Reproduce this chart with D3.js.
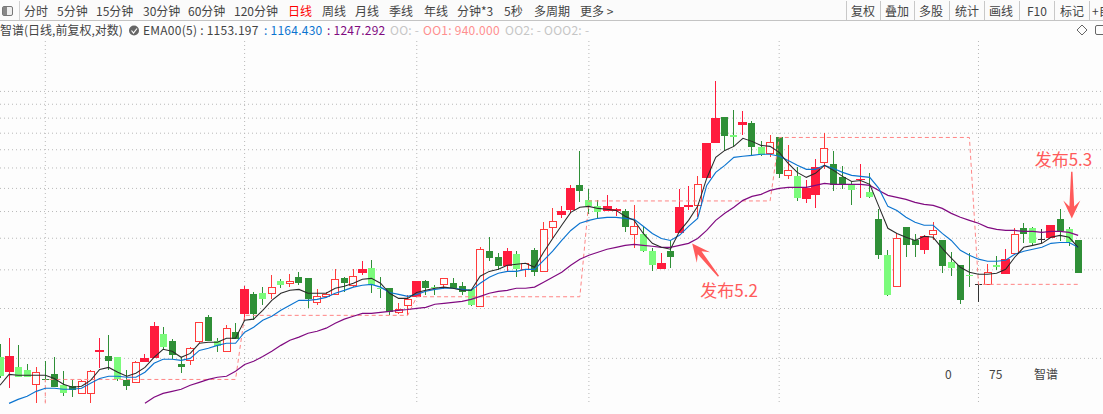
<!DOCTYPE html>
<html lang="en">

<head>
  <meta charset="UTF-8">
  <script src="https://cdnjs.cloudflare.com/ajax/libs/d3/7.8.5/d3.min.js"></script>
  <title>智谱 日线</title>
  <style>
    html, body { margin: 0; padding: 0; background: #fdfdfd; overflow: hidden; }
    text { font-family: "Noto Sans CJK SC", "Noto Sans", sans-serif; font-size: 12px; fill: #444; }
  </style>
</head>

<body>
  <div id="chart"></div>
  <script>
    // r solid red, h hollow red, g dark green, l light green, k black doji
    const kind = ['l','r','l','l','h','g','g','l','g','h','h','r','g','l','g','h','r','r','l','g',
      'g','h','h','g','l','h','g','r','g','l','h','l','h','g','g','h','h','h','g','h',
      'r','l','l','g','h','h','r','g','l','h','g','g','l','h','g','g','r','l','h','g',
      'h','h','r','r','g','l','l','r','r','g','h','l','l','r','g','r','r','h','r','r',
      'g','l','r','g','l','h','g','h','l','r','r','h','g','g','l','r','l','g','l','h',
      'g','g','r','h','g','l','g','l','k','h','l','r','h','g','l','k','r','g','l','g'];
    const open = [617,566,582,572,528,543,559,525,522,501,501,638,620,617,540,534,599,613,705,677,
      592,606,677,777,677,639,713,791,888,893,893,957,946,979,973,847,877,887,973,935,
      1002,1031,920,919,800,833,872,957,925,940,946,930,913,828,1138,1099,1043,1118,1025,1144,
      1013,1306,1400,1440,1664,1526,1474,1432,1432,1432,1254,1254,1138,1025,1138,1261,1466,1483,1732,2121,
      2463,2221,2352,2379,2072,2002,2195,1763,1753,1535,1571,1900,1878,1743,1664,1712,1598,1368,1112,930,
      1306,1211,1144,1254,1211,1068,1049,992,941,940,1049,996,1125,1299,1299,1219,1225,1368,1291,1211];
    const close = [553,620,550,550,566,542,519,501,510,537,569,642,603,543,522,599,613,738,654,624,
      582,650,755,677,657,730,685,913,791,862,925,935,957,946,862,877,887,968,946,985,
      1025,935,918,800,813,862,957,919,919,973,919,897,833,1151,1093,1043,1138,1025,1062,1008,
      1291,1352,1432,1635,1607,1474,1424,1474,1449,1306,1314,1138,1049,1062,1099,1466,1483,1674,2121,2449,
      2208,2195,2393,2072,1979,2133,1773,1814,1544,1635,1846,2060,1664,1664,1616,1722,1553,1112,882,1225,
      1177,1177,1240,1283,1043,1031,857,989,939,1008,1037,1087,1254,1254,1191,1217,1322,1276,1197,1002];
    const high = [665,689,661,592,582,603,617,569,540,540,572,689,701,617,575,603,628,755,734,685,
      617,654,755,786,689,743,751,930,898,925,990,968,996,1008,973,913,897,1025,979,1025,
      1074,1080,979,919,842,883,957,962,935,973,973,951,913,1164,1233,1125,1157,1138,1062,1157,
      1345,1457,1474,1664,2025,1626,1526,1571,1457,1449,1483,1306,1157,1125,1211,1626,1655,1753,2121,3031,
      2463,2564,2550,2406,2145,2221,2195,2096,1846,1712,1933,2247,2025,1857,1693,1878,1784,1449,1144,1261,
      1306,1254,1247,1345,1211,1131,1049,1125,941,1056,1106,1151,1299,1337,1306,1291,1322,1449,1306,1211];
    const low = [546,516,550,550,473,540,519,493,490,501,473,579,572,537,510,534,599,613,642,610,
      563,589,669,677,635,639,685,764,764,833,862,919,925,935,818,833,867,887,897,925,
      991,893,867,786,791,786,872,882,882,913,913,882,828,828,1074,1019,1013,979,979,985,
      1013,1218,1376,1416,1509,1408,1368,1432,1392,1269,1157,1131,1013,1025,1031,1261,1440,1384,1732,2121,
      2025,2072,2221,1968,1968,1956,1732,1722,1517,1500,1457,1825,1607,1626,1483,1544,1544,1087,877,930,
      1099,1099,1118,1211,1002,985,838,925,848,940,1019,996,1125,1191,1177,1191,1225,1204,1171,1002];

    const ema5 = [525,559,556,556,556,556,546,528,519,522,540,575,582,566,553,563,582,617,646,639,
      617,631,669,673,673,689,689,764,769,809,857,893,908,913,893,893,893,919,930,946,
      968,973,946,893,867,867,897,908,919,925,919,908,908,985,1013,1025,1049,1056,1062,1037,
      1131,1225,1322,1424,1466,1474,1457,1449,1440,1392,1360,1261,1191,1164,1151,1276,1360,1474,1732,1956,
      2036,2084,2183,2145,2096,2084,2013,1889,1794,1743,1784,1868,1814,1753,1702,1712,1674,1474,1299,1261,
      1233,1211,1240,1233,1157,1093,1037,1008,996,996,1002,1025,1099,1164,1177,1191,1233,1247,1233,1164];
    const ema10 = [null,473,484,493,507,516,516,513,513,516,531,546,553,553,550,550,566,596,610,610,
      606,613,642,650,661,669,669,713,734,764,782,809,833,857,857,862,872,893,908,925,
      935,940,925,897,887,877,887,903,913,919,919,913,908,946,979,1002,1013,1013,1025,1025,
      1080,1138,1211,1283,1337,1360,1376,1384,1384,1376,1368,1314,1261,1225,1211,1247,1314,1376,1664,1794,
      1868,1956,1968,1979,1991,1991,1968,1922,1868,1825,1825,1868,1835,1794,1763,1753,1743,1635,1474,1440,
      1384,1345,1322,1322,1261,1211,1144,1112,1087,1074,1074,1080,1118,1138,1151,1164,1191,1197,1197,1164];
    const ema30 = [null,null,null,null,null,null,null,null,null,null,null,null,null,null,null,null,473,490,501,507,
      513,525,534,543,550,553,569,592,603,620,639,661,681,693,709,717,730,751,769,782,
      795,795,800,804,809,813,818,823,838,842,847,852,862,877,893,903,908,919,919,925,
      951,979,1008,1049,1087,1112,1131,1151,1164,1177,1184,1177,1171,1164,1164,1177,1191,1225,1283,1360,
      1416,1466,1526,1562,1580,1616,1635,1645,1645,1645,1664,1683,1674,1674,1674,1674,1664,1616,1571,1553,
      1535,1509,1491,1483,1457,1416,1384,1360,1337,1306,1291,1283,1283,1276,1276,1269,1276,1276,1269,1247];

    // OO1 step level
    const ooIndex = [5,5,26,27,45,46,64,65,85,86,107,108,119];
    const ooValue = [473,543,543,786,786,875,875,1521,1521,2194,2194,940,940];

    const priceTicks = [615,820,1025,1230,1435,1640,1845,2050,2255,2460,2665,2870];
    const monthTicks = [5,27,46,65,86,108];

    const annoText = ['发布5.2','发布5.3'];
    const annoTextIndex = [77.3,114.2];
    const annoTextPrice = [874,1860];
    const annoTailIndex = [79.3,118.3];
    const annoTailPrice = [985,1800];
    const annoTipIndex = [76.4,118.3];
    const annoTipPrice = [1190,1375];

    const tabs = ['分时','5分钟','15分钟','30分钟','60分钟','120分钟','日线','周线','月线','季线','年线','分钟*3','5秒','多周期','更多 >'];
    const tabX = [24,57,96,143,188,234,288,322,355,389,424,457,504,534,580];
    const tools = ['复权','叠加','多股','统计','画线','F10','标记','+自'];
    const toolX = [851,885,919,955,989,1027,1060,1092];
    const toolSep = [846,880,914,949,984,1019,1054,1089];
    const legendText = ['EMA00(5) : 1153.197',': 1164.430',': 1247.292','OO: -','OO1: 940.000','OO2: -','OOO2: -'];
    const legendX = [143,264,327,390,423,505,544];
    const legendColor = ['#444','#0b74d0','#800a80','#c6c6c6','#ff8f8f','#c6c6c6','#c6c6c6'];

    const width = 1103, height = 414;
    const svg = d3.select('#chart').append('svg')
      .attr('width', width).attr('height', height)
      .style('display', 'block');

    const xScale = d3.scaleBand()
      .domain(d3.range(kind.length))
      .range([-4.53, 1082.67]);
    const yScale = d3.scaleLog()
      .domain([450, 3940])
      .range([412, 36]);
    const cx = i => xScale(0) + xScale.step() * (i + 0.5);

    // grid
    svg.append('g')
      .call(d3.axisRight(yScale).tickValues(priceTicks).tickSize(width).tickFormat(''));
    svg.append('g')
      .attr('transform', 'translate(0,402)')
      .call(d3.axisTop(xScale).tickValues(monthTicks).tickSize(361).tickFormat(''));
    svg.selectAll('.domain').remove();
    svg.selectAll('.tick line')
      .attr('stroke', '#b9b9b9')
      .attr('stroke-dasharray', '1,3');

    const colors = { r: '#ff1c3d', h: '#ff3b3b', g: '#2f8f37', l: '#7bfb7b', k: '#333' };
    const bodyW = { r: 9, h: 7, g: 7, l: 7, k: 7 };
    const candles = svg.append('g').selectAll('g')
      .data(d3.range(kind.length))
      .enter().append('g')
      .attr('shape-rendering', 'crispEdges');

    candles.append('line')
      .attr('x1', i => cx(i)).attr('x2', i => cx(i))
      .attr('y1', i => yScale(high[i])).attr('y2', i => yScale(low[i]))
      .attr('stroke', i => kind[i] === 'l' ? colors.g : colors[kind[i]]);

    candles.append('rect')
      .attr('x', i => cx(i) - bodyW[kind[i]] / 2)
      .attr('width', i => bodyW[kind[i]])
      .attr('y', i => yScale(Math.max(open[i], close[i])))
      .attr('height', i => Math.max(1, Math.abs(yScale(open[i]) - yScale(close[i]))))
      .attr('fill', i => kind[i] === 'h' ? '#fdfdfd' : colors[kind[i]])
      .attr('stroke', i => kind[i] === 'h' ? colors.h : 'none');

    const line = d3.line()
      .defined(d => d !== null)
      .x((d, i) => cx(i))
      .y(d => yScale(d));

    svg.append('path')
      .attr('d', d3.line().x(d => cx(d[0])).y(d => yScale(d[1]))(ooIndex.map((d, i) => [d, ooValue[i]])))
      .attr('fill', 'none')
      .attr('stroke', '#ff8585')
      .attr('stroke-dasharray', '4,3');

    [[ema30, '#800a80', 1.2], [ema10, '#0b74d0', 1.15], [ema5, '#2a2a2a', 1.05]].forEach(s => {
      svg.append('path')
        .attr('d', line(s[0]))
        .attr('fill', 'none')
        .attr('stroke', s[1])
        .attr('stroke-width', s[2]);
    });

    // annotations
    const annoColor = '#ff5a5a';
    annoText.forEach((t, i) => {
      svg.append('text')
        .attr('x', cx(annoTextIndex[i]))
        .attr('y', yScale(annoTextPrice[i]))
        .style('font-size', '17px')
        .style('fill', annoColor)
        .text(t);

      const x0 = cx(annoTailIndex[i]), y0 = yScale(annoTailPrice[i]);
      const x1 = cx(annoTipIndex[i]), y1 = yScale(annoTipPrice[i]);
      const len = Math.hypot(x1 - x0, y1 - y0);
      const ux = (x1 - x0) / len, uy = (y1 - y0) / len;
      const at = (back, side) => [x1 - ux * back - uy * side, y1 - uy * back + ux * side];
      svg.append('polygon')
        .attr('points', [at(len, 0.7), at(12, 2.4), at(18, 8.5), [x1, y1], at(18, -8.5), at(12, -2.4), at(len, -0.7)].join(' '))
        .attr('fill', annoColor);
    });

    // bottom labels
    svg.append('text').attr('x', 945).attr('y', 379).text('0');
    svg.append('text').attr('x', 989).attr('y', 379).text('75');
    svg.append('text').attr('x', 1034).attr('y', 379).text('智谱');

    // toolbar
    svg.append('rect').attr('width', width).attr('height', 20).attr('fill', '#fbfbfb');
    svg.append('line').attr('x1', 0).attr('x2', width).attr('y1', 20.5).attr('y2', 20.5).attr('stroke', '#c4c4c4');
    svg.append('line').attr('x1', 19.5).attr('x2', 19.5).attr('y1', 1).attr('y2', 20).attr('stroke', '#d0d0d0');
    svg.append('rect').attr('x', 2.5).attr('y', 6.5).attr('width', 10).attr('height', 9).attr('rx', 1.5)
      .attr('fill', '#eee').attr('stroke', '#777');
    svg.append('rect').attr('x', 3).attr('y', 7).attr('width', 4).attr('height', 8).attr('fill', '#888');

    svg.append('g').selectAll('text').data(tabs).enter().append('text')
      .attr('x', (d, i) => tabX[i]).attr('y', 16)
      .style('fill', d => d === '日线' ? '#f00' : '#444')
      .text(d => d);
    svg.append('g').selectAll('text').data(tools).enter().append('text')
      .attr('x', (d, i) => toolX[i]).attr('y', 16)
      .text(d => d);
    svg.append('g').selectAll('line').data(toolSep).enter().append('line')
      .attr('x1', d => d + 0.5).attr('x2', d => d + 0.5)
      .attr('y1', 1).attr('y2', 20)
      .attr('stroke', '#c8c8c8');

    // legend row
    svg.append('text').attr('x', 0).attr('y', 35).text('智谱(日线,前复权,对数)');
    svg.append('circle').attr('cx', 134).attr('cy', 30.5).attr('r', 5).attr('fill', '#666');
    svg.append('path').attr('d', 'M131.5 30.5 L133.5 33 L137 28.5').attr('fill', 'none').attr('stroke', '#fff').attr('stroke-width', 1.2);
    svg.append('g').selectAll('text').data(legendText).enter().append('text')
      .attr('x', (d, i) => legendX[i]).attr('y', 35)
      .style('fill', (d, i) => legendColor[i])
      .style('letter-spacing', '0.25px')
      .text(d => d);
    svg.append('path').attr('d', 'M1082 25 L1087 30 L1082 35 L1077 30 Z').attr('fill', 'none').attr('stroke', '#666');
    svg.append('rect').attr('x', 1095.5).attr('y', 25.5).attr('width', 9).attr('height', 9).attr('rx', 1.5)
      .attr('fill', 'none').attr('stroke', '#666');
  </script>
</body>

</html>
